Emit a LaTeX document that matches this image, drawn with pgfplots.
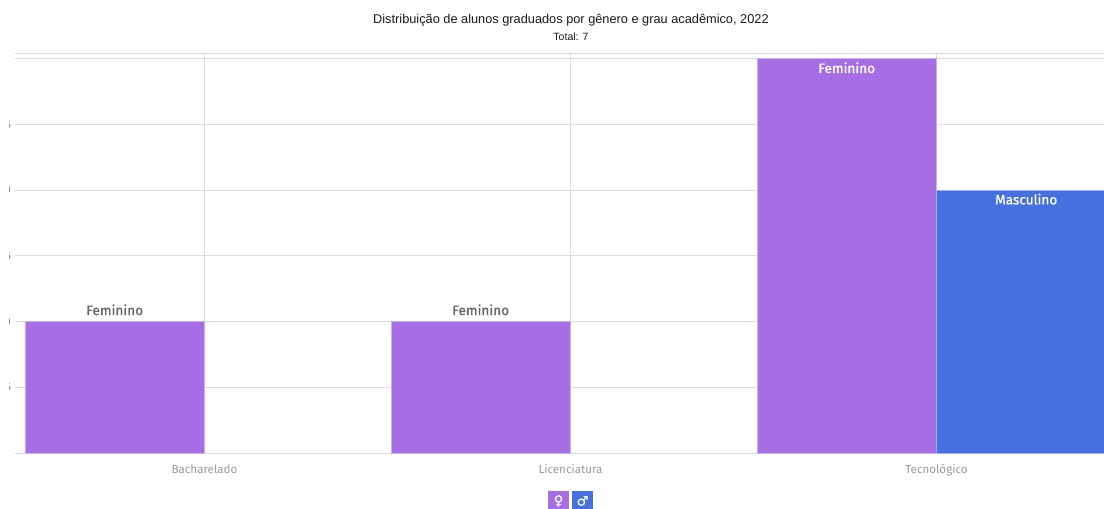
\documentclass[border=0pt]{standalone}
\usepackage{fontspec}
\setmainfont{Liberation Sans}
\newfontfamily\labelfont{Fira Sans}
\newfontfamily\symbolfont{DejaVu Sans}
\usepackage{pgfplots}
\pgfplotsset{compat=1.18}
\definecolor{fem}{HTML}{A66DE4}
\definecolor{masc}{HTML}{4670DF}
\definecolor{gridc}{HTML}{DBDBDB}
\definecolor{ticktxt}{HTML}{999999}
\definecolor{barlabel}{HTML}{666666}
% 1 screen pixel = 0.75pt; the page is 1104 x 508 pixels
\begin{document}
\begin{tikzpicture}
\clip (0,0) rectangle (828pt,-381pt);
\begin{axis}[
  at={(11.25pt,-339.75pt)}, anchor=south west,
  scale only axis, width=816.75pt, height=300pt,
  xmin=-0.51776, xmax=2.45765,
  ymin=0, ymax=3.044,
  ytick={0,0.5,1,1.5,2,2.5,3,3.044},
  yticklabels={,0.5,1.0,1.5,2.0,2.5,,},
  xtick={0,1,2},
  xticklabels={Bacharelado,Licenciatura,Tecnológico},
  ymajorgrids, xmajorgrids,
  grid style={draw=gridc, line width=0.75pt},
  axis line style={draw=none},
  major tick style={draw=none},
  extra x ticks={0,1,2}, extra x tick labels={},
  extra x tick style={major tick length=4.5pt, tick style={draw=gridc, line width=0.75pt}, tick pos=bottom, xticklabel pos=bottom},
  tick pos=bottom,
  ytick pos=left,
  ytick style={draw=none},
  major tick length=0pt,
  yticklabel style={font=\labelfont\fontsize{8}{9}\selectfont, text=ticktxt!80!black, anchor=east, inner sep=0pt, xshift=-2.9pt},
  xticklabel style={font=\labelfont\fontsize{8.7}{10}\selectfont, text=ticktxt, anchor=base, inner sep=0pt, yshift=-15pt},
  ybar,
  bar width=134.625pt,
  nodes near coords={},
  clip=true,
]
% Feminino, bars of value 1: label above the bar
\addplot[fill=fem, draw=fem!55!white, line width=0.6pt, bar shift=-67.3125pt,
  nodes near coords={Feminino},
  every node near coord/.append style={font=\labelfont\fontsize{10.2}{12}\selectfont\addfontfeature{FakeBold=0.9}, text=barlabel, anchor=south, inner sep=0pt, yshift=4.5pt}]
  coordinates {(0,1) (1,1)};
% Feminino, bar of value 3: label inside the bar
\addplot[fill=fem, draw=fem!55!white, line width=0.6pt, bar shift=-67.3125pt,
  nodes near coords={Feminino},
  every node near coord/.append style={font=\labelfont\fontsize{10.2}{12}\selectfont\addfontfeature{FakeBold=0.9}, text=white, anchor=north, inner sep=0pt, yshift=-2.4pt}]
  coordinates {(2,3)};
% Masculino
\addplot[fill=masc, draw=masc!55!white, line width=0.6pt, bar shift=67.3125pt,
  nodes near coords={Masculino},
  every node near coord/.append style={font=\labelfont\fontsize{10.2}{12}\selectfont\addfontfeature{FakeBold=0.9}, text=white, anchor=north, inner sep=0pt, yshift=-2.4pt}]
  coordinates {(2,2)};
\end{axis}
% the value labels run off behind the left margin
\fill[white] (0,0) rectangle (6.5pt,-381pt);
% title block
\node[font=\fontsize{9.58}{11}\selectfont, text=black!90, inner sep=0pt] at (428.2pt,-15.3pt) {Distribuição de alunos graduados por gênero e grau acadêmico, 2022};
\node[font=\fontsize{7.9}{9}\selectfont, text=black!90, inner sep=0pt] at (428.2pt,-27.6pt) {Total: 7};
% gender legend
\fill[fem] (411pt,-368.5pt) rectangle (426.75pt,-385pt);
\fill[masc] (429pt,-368.5pt) rectangle (444.75pt,-385pt);
\node[font=\symbolfont\fontsize{10}{11}\selectfont\addfontfeature{FakeBold=0.6}, text=white, inner sep=0pt] at (418.9pt,-375.7pt) {♀};
\node[font=\symbolfont\fontsize{10}{11}\selectfont\addfontfeature{FakeBold=0.6}, text=white, inner sep=0pt] at (436.9pt,-375.7pt) {♂};
\end{tikzpicture}
\end{document}
